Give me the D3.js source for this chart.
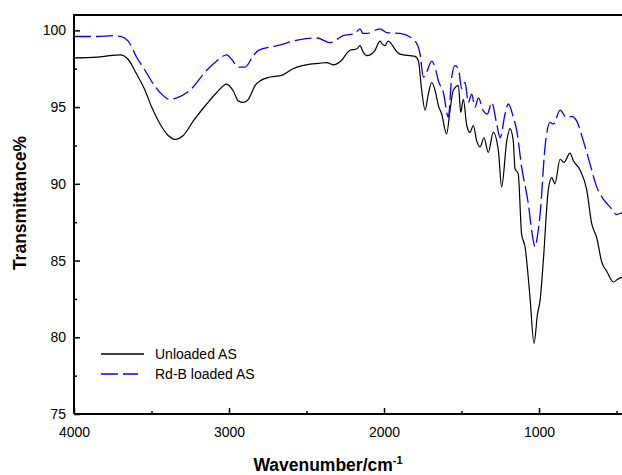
<!DOCTYPE html>
<html><head><meta charset="utf-8">
<script src="https://cdn.jsdelivr.net/npm/d3@7"></script>
<style>body{margin:0;background:#fff}svg{display:block}text{font-family:"Liberation Sans",Arial,sans-serif}</style>
</head><body><svg id="c" width="622" height="475"></svg>
<script>
const seriesNames = ["Unloaded AS", "Rd-B loaded AS"];
const unloadedWn = [4000,3850,3768,3703,3650,3596,3542,3499,3445,3392,3348,3295,3230,3144,3079,3015,2972,2940,2908,2875,2832,2800,2755,2652,2587,2477,2420,2368,2325,2284,2219,2175,2155,2135,2110,2058,2026,2010,1994,1974,1916,1897,1800,1778,1757,1735,1714,1692,1671,1649,1628,1596,1574,1553,1520,1505,1488,1466,1445,1424,1402,1380,1355,1327,1295,1262,1241,1208,1187,1166,1155,1134,1112,1090,1058,1032,1010,993,972,940,918,897,864,839,800,778,735,692,660,628,595,563,520,490,466,400];
const unloadedT  = [98.2,98.25,98.35,98.4,98.1,97.15,96.1,95.0,93.9,93.15,92.9,93.15,94.1,95.2,95.95,96.5,96.05,95.4,95.3,95.5,96.4,96.7,96.9,97.1,97.5,97.8,97.85,97.9,97.75,97.95,98.7,98.8,99.0,98.6,98.35,98.7,99.3,99.1,99.0,99.3,98.6,98.45,98.3,98.0,96.1,94.8,95.85,96.6,96.1,95.1,94.55,93.25,94.8,96.1,96.4,94.65,95.5,93.8,93.35,93.8,92.8,92.4,93.0,92.05,93.35,92.15,89.8,92.8,93.6,92.8,91.0,90.65,86.7,85.9,82.6,79.6,81.5,82.4,85.0,89.6,90.4,90.0,91.6,91.4,92.0,91.5,90.9,89.6,87.4,86.5,84.9,84.3,83.6,83.8,83.9,84.0];
const loadedWn = [4000,3850,3750,3700,3650,3596,3542,3488,3445,3381,3337,3252,3144,3079,3015,2982,2940,2897,2843,2811,2690,2542,2432,2348,2264,2187,2155,2135,2110,2026,1981,1897,1800,1768,1746,1724,1692,1671,1649,1617,1585,1563,1542,1520,1499,1477,1456,1434,1413,1391,1359,1333,1305,1273,1251,1219,1198,1166,1144,1112,1069,1045,1026,1010,993,961,929,907,864,821,789,757,714,671,628,585,542,499,466,400];
const loadedT  = [99.6,99.6,99.65,99.6,99.3,98.25,97.4,96.5,95.95,95.5,95.6,96.1,97.4,98.0,98.4,98.1,97.6,97.6,98.35,98.7,99.0,99.4,99.5,99.2,99.65,99.8,100.1,99.8,99.8,100.1,99.85,99.8,99.3,98.5,96.95,97.3,98.0,97.6,96.7,95.95,94.35,96.95,97.7,97.5,96.2,96.6,95.3,95.85,95.0,95.6,94.75,94.55,95.3,93.9,93.0,94.55,95.2,94.35,93.5,91.1,88.7,86.8,85.9,86.6,88.0,92.4,94.0,93.9,94.8,94.3,94.4,94.1,92.8,91.3,89.8,89.0,88.5,88.0,88.1,88.0];
const xTicks = [4000,3000,2000,1000];
const xMinor = [3500,2500,1500,500];
const yTicks = [75,80,85,90,95,100];
const yMinor = [77.5,82.5,87.5,92.5,97.5];

const svg = d3.select("#c");
const L=74, R=632, T=15, B=414;
const x = d3.scaleLinear().domain([4000,400]).range([L,R]);
const y = d3.scaleLinear().domain([75,101]).range([B,T]);

const line = d3.line().x(d=>x(d[0])).y(d=>y(d[1])).curve(d3.curveMonotoneX);
const d1 = unloadedWn.map((w,i)=>[w,unloadedT[i]]);
const d2 = loadedWn.map((w,i)=>[w,loadedT[i]]);
svg.append("clipPath").attr("id","cp").append("rect").attr("x",L).attr("y",T).attr("width",R-L).attr("height",B-T);
const g = svg.append("g").attr("clip-path","url(#cp)");
g.append("path").datum(d1).attr("d",line).attr("fill","none").attr("stroke","#000").attr("stroke-width",1.2);
g.append("path").datum(d2).attr("d",line).attr("fill","none").attr("stroke","#0000ff").attr("stroke-width",1.3).attr("stroke-dasharray","17,5");

// frame
svg.append("path").attr("d",`M${L},${B}H${R}M${L},${B}V${T}H${R}`).attr("fill","none").attr("stroke","#000").attr("stroke-width",2);

const xAxis = svg.append("g").attr("transform",`translate(0,${B})`)
  .call(d3.axisBottom(x).tickValues(xTicks).tickSize(-6).tickFormat(d3.format("d")));
xAxis.select(".domain").remove();
xAxis.selectAll("line").attr("stroke-width",1.5);
xAxis.selectAll("text").attr("dy",0).attr("y",23).attr("font-size",14).attr("fill","#000");
const xAxis2 = svg.append("g").attr("transform",`translate(0,${B})`)
  .call(d3.axisBottom(x).tickValues(xMinor).tickSize(-3).tickFormat(""));
xAxis2.select(".domain").remove();
xAxis2.selectAll("line").attr("stroke-width",1.5);

const yAxis = svg.append("g").attr("transform",`translate(${L},0)`)
  .call(d3.axisLeft(y).tickValues(yTicks).tickSize(-6).tickFormat(d3.format("d")));
yAxis.select(".domain").remove();
yAxis.selectAll("line").attr("stroke-width",1.5);
yAxis.selectAll("text").attr("x",-8).attr("font-size",14).attr("fill","#000");
const yAxis2 = svg.append("g").attr("transform",`translate(${L},0)`)
  .call(d3.axisLeft(y).tickValues(yMinor).tickSize(-3).tickFormat(""));
yAxis2.select(".domain").remove();
yAxis2.selectAll("line").attr("stroke-width",1.5);

// titles
const xt = svg.append("text").attr("x",328).attr("y",471).attr("text-anchor","middle").attr("font-size",17.5).attr("font-weight","bold");
xt.append("tspan").text("Wavenumber/cm");
xt.append("tspan").attr("dy",-7).attr("font-size",11).text("-1");
svg.append("text").attr("transform","translate(26,203) rotate(-90)").attr("text-anchor","middle").attr("font-size",17.5).attr("font-weight","bold").text("Transmittance%");

// legend
const lg = svg.append("g");
lg.append("line").attr("x1",101).attr("x2",144).attr("y1",354).attr("y2",354).attr("stroke","#000").attr("stroke-width",1.5);
lg.append("line").attr("x1",101).attr("x2",138).attr("y1",374).attr("y2",374).attr("stroke","#0000ff").attr("stroke-width",1.5).attr("stroke-dasharray","17,5");
lg.append("text").attr("x",155).attr("y",359).attr("font-size",14).text(seriesNames[0]);
lg.append("text").attr("x",155).attr("y",379).attr("font-size",14).text(seriesNames[1]);
</script></body></html>
